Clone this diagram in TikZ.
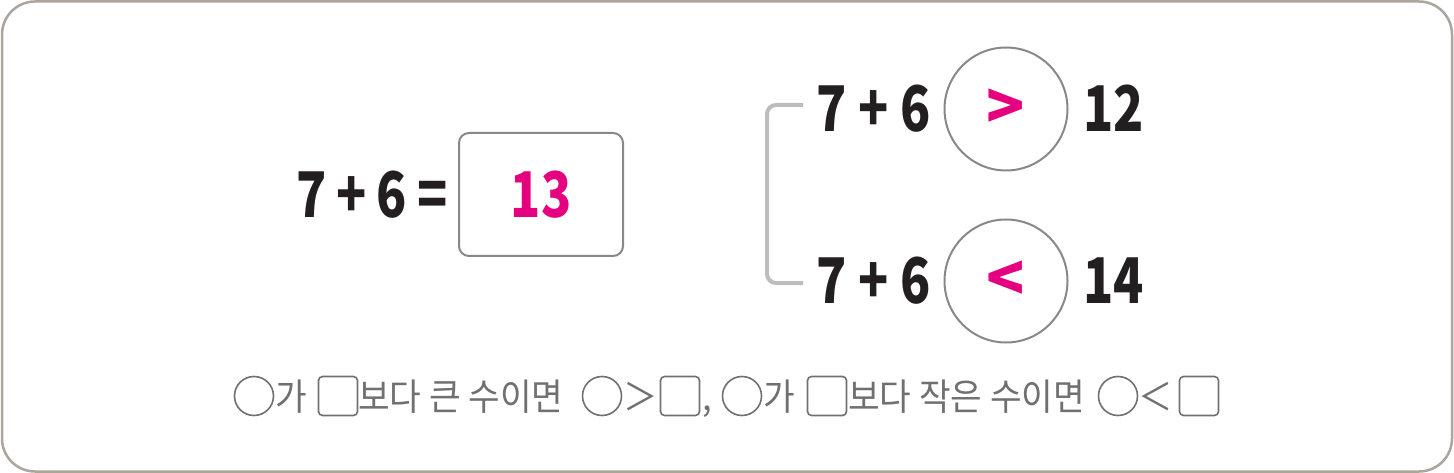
\documentclass[tikz,border=0pt]{standalone}
\usepackage{fontspec}
\newfontfamily\kr{Noto Sans CJK KR}
\newfontfamily\krn[FakeStretch=0.79]{Noto Sans CJK KR}
\newfontfamily\krc[FakeStretch=0.93]{Noto Sans CJK KR}
\definecolor{ink}{HTML}{231F20}
\definecolor{mag}{HTML}{E4007F}
\definecolor{frame}{HTML}{ABA59E}
\definecolor{cgray}{HTML}{888888}
\definecolor{bgray}{HTML}{BDBDBD}
\definecolor{tgray}{HTML}{707070}
\newcommand{\gp}{\kern12pt}
\newcommand{\gq}{\kern10pt}
\tikzset{
  numtxt/.style={inner sep=0pt, text=ink, font=\krn\bfseries\fontsize{63}{70}\selectfont},
  magnum/.style={inner sep=0pt, text=mag, font=\krn\bfseries\fontsize{63}{70}\selectfont},
  magsym/.style={inner sep=0pt, text=mag, font=\kr\bfseries\fontsize{63}{70}\selectfont},
  ansbox/.style={draw=cgray, line width=2pt, rounded corners=10pt, minimum width=164pt, minimum height=123pt, inner sep=0pt},
  cmpcircle/.style={circle, draw=cgray, line width=2pt, minimum size=123pt, inner sep=0pt},
  bracketline/.style={draw=bgray, line width=4pt, rounded corners=9pt},
  smalltxt/.style={inner sep=0pt, text=tgray, font=\krc\fontsize{37}{42}\selectfont},
  smallcircle/.style={circle, draw=tgray, line width=1.6pt, minimum size=39pt, inner sep=0pt},
  smallbox/.style={draw=tgray, line width=1.6pt, rounded corners=4pt, minimum size=39pt, inner sep=0pt},
}
\begin{document}
\begin{tikzpicture}[x=1pt,y=-1pt]
\useasboundingbox (0,0) rectangle (1454,473);
\draw[frame, line width=2.5pt, rounded corners=33pt] (2,1.5) rectangle (1452,471.5);

% left equation
\node[numtxt, anchor=base west] (eq) at (296,218) {7\gq+\gq6\gq=};
\node[ansbox, magnum] (ans) at (541,194.5) {13};

% comparisons
\node[numtxt, anchor=base west] (a1) at (816,132) {7\gp+\gp6};
\node[cmpcircle, magsym] (c1) at (1006,109) {>};
\node[numtxt, anchor=base west] (b1) at (1083,132) {12};
\node[numtxt, anchor=base west] (a2) at (816,303) {7\gp+\gp6};
\node[cmpcircle, magsym] (c2) at (1006,281) {<};
\node[numtxt, anchor=base west] (b2) at (1083,303) {14};

% bracket
\coordinate (bt) at (803,105);
\coordinate (bb) at (803,283);
\coordinate (bx) at (767,0);
\draw[bracketline] (bt) -| (bx |- bb) -- (bb);

% bottom line
\node[smallcircle] (s1) at (254,396) {};
\node[smalltxt, anchor=base west] (t1) at (275,410) {가};
\node[smallbox] (q1) at (338,396) {};
\node[smalltxt, anchor=base west] (t2) at (358,410) {보다 큰 수이면};
\node[smallcircle] (s2) at (602,396) {};
\node[smalltxt, anchor=base west] (t3) at (623,410) {＞};
\node[smallbox] (q2) at (680,396) {};
\node[smalltxt, anchor=base west] (t4) at (702,410) {,};
\node[smallcircle] (s3) at (742,396) {};
\node[smalltxt, anchor=base west] (t5) at (763,410) {가};
\node[smallbox] (q3) at (827,396) {};
\node[smalltxt, anchor=base west] (t6) at (848,410) {보다 작은 수이면};
\node[smallcircle] (s4) at (1118,396) {};
\node[smalltxt, anchor=base west] (t7) at (1138,410) {＜};
\node[smallbox] (q4) at (1199,396) {};
\end{tikzpicture}
\end{document}
